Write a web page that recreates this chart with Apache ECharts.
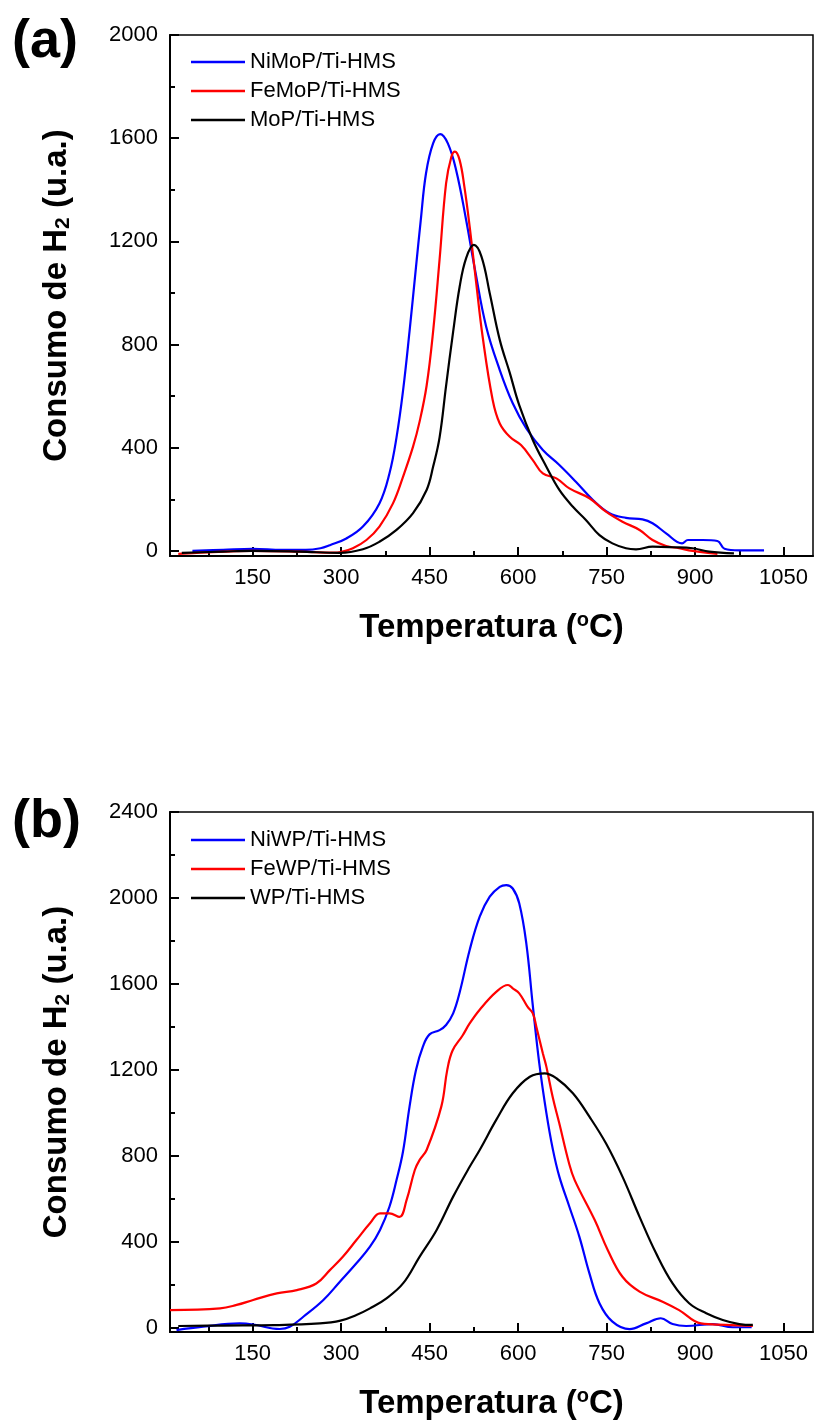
<!DOCTYPE html>
<html>
<head>
<meta charset="utf-8">
<script src="https://cdn.jsdelivr.net/npm/echarts@6/dist/echarts.min.js"></script>
<style>
  html, body { margin: 0; padding: 0; background: #fff; }
  #chart { width: 816px; height: 1422px; }
</style>
</head>
<body>
<div id="chart"></div>
<script>
// tick values
const xTicks = [150, 300, 450, 600, 750, 900, 1050];
const xMinor = [75, 225, 375, 525, 675, 825, 975];
const yTicksA = [0, 400, 800, 1200, 1600, 2000];
const yMinorA = [200, 600, 1000, 1400, 1800];
const yTicksB = [0, 400, 800, 1200, 1600, 2000, 2400];
const yMinorB = [200, 600, 1000, 1400, 1800, 2200];

// (a) [temperatura, consumo]
const niMoP = [[48,0],[100,4],[150,8],[200,4],[240,4],[265,10],[281,22],[309,48],[337,94],[365,184],[382,300],[394,440],[405,620],[416,850],[427,1100],[435,1280],[444,1464],[456,1580],[468,1616],[481,1580],[495,1477],[512,1283],[527,1090],[546,869],[569,701],[591,572],[614,475],[642,391],[670,333],[698,268],[727,197],[755,146],[783,128],[811,122],[828,107],[851,68],[878,29],[888,42],[913,42],[938,38],[950,8],[975,2],[1017,2]];
const feMoP = [[24,-12],[61,-7],[100,-3],[149,0],[230,-3],[287,-7],[299,-5],[320,10],[343,42],[365,94],[388,184],[405,287],[422,404],[433,500],[445,640],[456,850],[467,1130],[478,1425],[487,1528],[493,1548],[501,1515],[509,1412],[518,1257],[529,1040],[540,830],[557,585],[569,494],[586,442],[605,410],[625,352],[642,300],[665,281],[687,242],[721,204],[749,152],[777,113],[806,81],[828,42],[851,19],[873,10],[896,0],[938,-12]];
const moP = [[30,-8],[100,-3],[150,0],[230,-3],[298,-8],[337,6],[365,35],[394,81],[422,146],[445,236],[456,326],[467,440],[478,640],[490,850],[501,1024],[512,1135],[525,1186],[538,1141],[552,999],[569,818],[586,690],[602,565],[625,430],[648,326],[670,236],[693,171],[715,120],[738,61],[760,29],[783,10],[800,6],[828,16],[862,14],[896,10],[924,-3],[966,-10]];

// (b)
const niWP = [[21,-11],[66,5],[128,20],[151,15],[196,-6],[213,4],[236,51],[270,129],[298,214],[326,300],[349,377],[366,455],[382,563],[394,687],[405,820],[416,1028],[427,1199],[439,1310],[450,1365],[467,1385],[478,1409],[490,1463],[501,1560],[518,1758],[535,1913],[552,2006],[569,2052],[580,2060],[591,2044],[602,1975],[614,1789],[625,1500],[636,1230],[648,1000],[659,830],[670,703],[687,563],[704,423],[721,253],[738,114],[760,28],[789,-7],[817,20],[842,44],[862,17],[885,8],[930,17],[964,2],[996,2]];
const feWP = [[10,82],[95,90],[123,106],[151,129],[191,160],[225,175],[258,206],[281,268],[303,330],[326,408],[349,486],[366,532],[382,532],[399,516],[411,594],[425,734],[433,780],[445,827],[470,1030],[480,1200],[489,1290],[506,1360],[518,1416],[535,1480],[563,1563],[583,1595],[591,1579],[602,1556],[616,1494],[625,1463],[631,1401],[642,1277],[648,1215],[659,1070],[670,950],[686,770],[696,687],[730,501],[752,362],[777,237],[806,168],[845,121],[873,82],[910,20],[952,13],[998,8]];
const wP = [[24,8],[100,10],[187,12],[264,20],[299,33],[326,59],[349,90],[377,137],[405,206],[433,330],[462,455],[490,610],[518,749],[535,827],[563,967],[591,1091],[620,1168],[645,1184],[665,1161],[693,1091],[721,982],[749,858],[777,703],[806,516],[834,346],[862,206],[890,114],[919,67],[947,36],[975,17],[998,13]];

const FONT = '"Liberation Sans", Arial, sans-serif';
const chart = echarts.init(document.getElementById('chart'), null, { renderer: 'canvas' });

function plain(v) { return String(v); }

function xMain(grid) {
  return {
    gridIndex: grid, type: 'value', position: 'bottom', min: 10, max: 1100,
    axisLine: { onZero: false, lineStyle: { color: '#000', width: 2 } },
    axisTick: { inside: true, length: 9, customValues: xTicks, lineStyle: { color: '#000', width: 2 } },
    axisLabel: { customValues: xTicks, formatter: plain, fontSize: 22, color: '#000', fontFamily: FONT, margin: 11 },
    splitLine: { show: false },
    name: '{t|Temperatura (}{s|o}{t|C)}',
    nameLocation: 'middle', nameGap: 54,
    nameTextStyle: {
      rich: {
        t: { fontSize: 33, fontWeight: 'bold', fontFamily: FONT, color: '#000', lineHeight: 35 },
        s: { fontSize: 20, fontWeight: 'bold', fontFamily: FONT, color: '#000', verticalAlign: 'top', lineHeight: 20 }
      }
    }
  };
}
function xMinorAxis(grid) {
  return {
    gridIndex: grid, type: 'value', position: 'bottom', min: 10, max: 1100,
    axisLine: { show: false, onZero: false },
    axisTick: { inside: true, length: 5, customValues: xMinor, lineStyle: { color: '#000', width: 2 } },
    axisLabel: { show: false }, splitLine: { show: false }
  };
}
function yMain(grid, max, ticks) {
  return {
    gridIndex: grid, type: 'value', position: 'left', min: -20, max: max,
    axisLine: { show: true, onZero: false, lineStyle: { color: '#000', width: 2 } },
    axisTick: { show: true, inside: true, length: 9, customValues: ticks, lineStyle: { color: '#000', width: 2 } },
    axisLabel: { customValues: ticks, formatter: plain, fontSize: 22, color: '#000', fontFamily: FONT, margin: 12 },
    splitLine: { show: false },
    name: '{t|Consumo de H}{s|2}{t| (u.a.)}',
    nameLocation: 'middle', nameGap: 96,
    nameTextStyle: {
      rich: {
        t: { fontSize: 33, fontWeight: 'bold', fontFamily: FONT, color: '#000', lineHeight: 35 },
        s: { fontSize: 21, fontWeight: 'bold', fontFamily: FONT, color: '#000', verticalAlign: 'bottom', lineHeight: 21 }
      }
    }
  };
}
function yMinorAxis(grid, max, ticks) {
  return {
    gridIndex: grid, type: 'value', position: 'left', min: -20, max: max,
    axisLine: { show: false, onZero: false },
    axisTick: { show: true, inside: true, length: 5, customValues: ticks, lineStyle: { color: '#000', width: 2 } },
    axisLabel: { show: false }, splitLine: { show: false }
  };
}
function line(name, data, color, grid) {
  return {
    name: name, type: 'line', data: data,
    xAxisIndex: grid * 2, yAxisIndex: grid * 2,
    showSymbol: false, symbol: 'none', smooth: 0.4,
    lineStyle: { color: color, width: 2.2 }, itemStyle: { color: color }
  };
}
function legend(names, top) {
  return {
    data: names, orient: 'vertical', left: 186, top: top,
    icon: 'rect', itemWidth: 54, itemHeight: 2.5, itemGap: 7,
    textStyle: { fontSize: 22, lineHeight: 22, color: '#000', fontFamily: FONT },
    selectedMode: false
  };
}

chart.setOption({
  animation: false,
  backgroundColor: '#fff',
  grid: [
    { left: 170, top: 35, width: 643, height: 521, show: true, borderColor: '#000', borderWidth: 1.5, backgroundColor: 'transparent' },
    { left: 170, top: 812, width: 643, height: 520, show: true, borderColor: '#000', borderWidth: 1.5, backgroundColor: 'transparent' }
  ],
  xAxis: [xMain(0), xMinorAxis(0), xMain(1), xMinorAxis(1)],
  yAxis: [yMain(0, 2000, yTicksA), yMinorAxis(0, 2000, yMinorA), yMain(1, 2400, yTicksB), yMinorAxis(1, 2400, yMinorB)],
  legend: [
    legend(['NiMoP/Ti-HMS', 'FeMoP/Ti-HMS', 'MoP/Ti-HMS'], 46),
    legend(['NiWP/Ti-HMS', 'FeWP/Ti-HMS', 'WP/Ti-HMS'], 824)
  ],
  series: [
    line('NiMoP/Ti-HMS', niMoP, '#0000ff', 0),
    line('FeMoP/Ti-HMS', feMoP, '#ff0000', 0),
    line('MoP/Ti-HMS', moP, '#000000', 0),
    line('NiWP/Ti-HMS', niWP, '#0000ff', 1),
    line('FeWP/Ti-HMS', feWP, '#ff0000', 1),
    line('WP/Ti-HMS', wP, '#000000', 1)
  ],
  graphic: [
    { type: 'text', left: 12, top: 15, style: { text: '(a)', font: 'bold 54px "Liberation Sans", Arial, sans-serif', fill: '#000' } },
    { type: 'text', left: 12, top: 795, style: { text: '(b)', font: 'bold 54px "Liberation Sans", Arial, sans-serif', fill: '#000' } }
  ]
});
</script>
</body>
</html>
